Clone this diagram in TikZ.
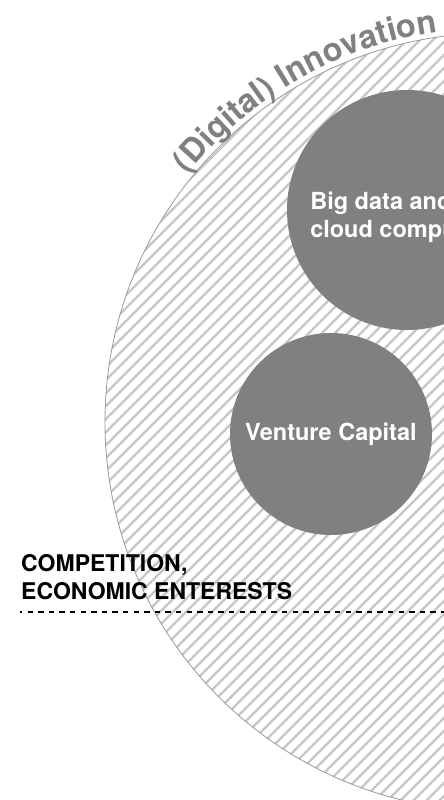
\documentclass[tikz,border=0pt]{standalone}
\usepackage{fontspec}
\setmainfont{TeX Gyre Heros}
\usetikzlibrary{decorations.text}
\definecolor{bubblegray}{HTML}{808080}
\definecolor{hatchgray}{HTML}{C6C6C6}
\definecolor{rimgray}{HTML}{9A9A9A}
\begin{document}
\begin{tikzpicture}[x=1pt,y=1pt,
  bubble/.style={circle, fill=bubblegray, draw=none, inner sep=0pt},
  bubbletext/.style={text=white, font=\bfseries\fontsize{23.5}{28}\selectfont, inner sep=0pt},
  labeltext/.style={text=black, font=\bfseries\fontsize{23}{28}\selectfont, inner sep=0pt},
  hatchline/.style={draw=hatchgray, line width=2.4pt},
  rim/.style={draw=rimgray, line width=0.8pt},
  divider/.style={draw=black, line width=1.3pt, dash pattern=on 5.3pt off 5.3pt, dash phase=3pt}]
\useasboundingbox (0,0) rectangle (444,-800);
\fill[white] (0,0) rectangle (444,-800);
\coordinate (c) at (494,-422);
% hatched big circle
\begin{scope}
  \clip (c) circle[radius=389];
  \foreach \k in {-520,-507,...,650} \draw[hatchline] (\k,-850) -- ++(1300,1300);
\end{scope}
\draw[rim] (c) circle[radius=389];
% curved title
\coordinate (arcstart) at ([shift={(141:394)}]c);
\path[decorate, decoration={text along path, text align=left,
  text={|\bfseries\fontsize{32.5}{32.5}\selectfont\color{bubblegray}|(Digital) Innovation}}]
  (arcstart) arc[start angle=141, end angle=88, radius=394];
% dashed divider
\coordinate (dl) at (20,-612);
\coordinate (dr) at (444,-612);
\draw[divider] (dl) -- (dr);
% bubbles
\node[bubble, minimum size=240pt] (bigdata) at (407,-210) {};
\node[bubble, minimum size=202pt] (vc) at (331,-434) {};
\node[bubbletext, align=left] (bigdatatext) at (405,-217) {Big data and\\cloud computing};
\node[bubbletext] (vctext) at (331,-434) {Venture Capital};
% label
\node[labeltext, align=left, anchor=west] (comp) at (21,-577) {COMPETITION,\\ECONOMIC ENTERESTS};
\end{tikzpicture}
\end{document}
